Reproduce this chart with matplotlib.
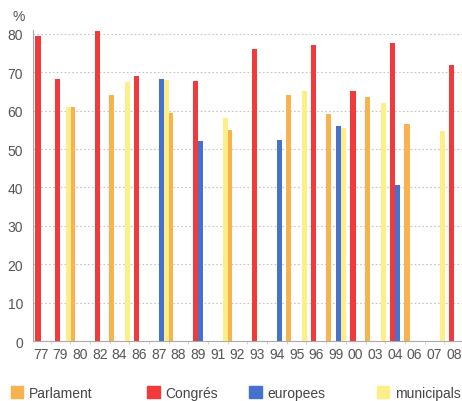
import numpy as np
import matplotlib
matplotlib.use("Agg")
from matplotlib import pyplot as plt
from matplotlib.patches import Patch

plt.rcParams['font.family'] = ['Liberation Sans', 'DejaVu Sans']

# election years on the x axis
years = ['77', '79', '80', '82', '84', '86', '87', '88', '89', '91', '92',
         '93', '94', '95', '96', '99', '00', '03', '04', '06', '07', '08']

# turnout (%) per election type, None where there was no election
parlament = [None, None, 61, None, 64, None, None, 59.5, None, None, 55,
             None, None, 64, None, 59.2, None, 63.6, None, 56.4, None, None]
congres = [79.3, 68.3, None, 80.6, None, 69, None, None, 67.6, None, None,
           76, None, None, 77, None, 65, None, 77.5, None, None, 72]
europees = [None, None, None, None, None, None, 68.2, None, 52, None, None,
            None, 52.3, None, None, 56, None, None, 40.7, None, None, None]
municipals = [None, 61, None, None, 67.5, None, 68, None, None, 58, None,
              None, None, 65, None, 55.5, None, 62, None, None, 54.7, None]

series = [('Parlament', parlament, '#F8B24E'),
          ('Congrés', congres, '#F03A3C'),
          ('europees', europees, '#4771CF'),
          ('municipals', municipals, '#FDEF88')]

fig = plt.figure(figsize=(4.62, 4.02), dpi=100)
ax = fig.add_axes([0.071, 0.149, 0.929, 0.774])

x = np.arange(len(years))
width = 0.265
for k, (name, vals, col) in enumerate(series):
    idx = [i for i, v in enumerate(vals) if v is not None]
    h = [vals[i] for i in idx]
    ax.bar(x[idx] + (k - 1.5) * width, h, width=width, color=col,
           zorder=3, linewidth=0)

ax.set_xlim(-0.4, len(years) - 0.6)
ax.set_ylim(0, 81)
ax.set_yticks(range(0, 81, 10))
ax.set_xticks(x)
ax.set_xticklabels(years)
ax.set_xticks(x[:-1] + 0.5, minor=True)
ax.tick_params(axis='y', length=0, pad=7, labelsize=10, labelcolor='#555555')
ax.tick_params(axis='x', which='major', length=0, pad=4, labelsize=10,
               labelcolor='#555555')
ax.tick_params(axis='x', which='minor', length=2, color='#cccccc')

ax.grid(axis='y', linestyle=(0, (1.5, 2)), color='#c4c4c4', linewidth=0.8,
        zorder=0)
for s in ['top', 'right']:
    ax.spines[s].set_visible(False)
for s in ['left', 'bottom']:
    ax.spines[s].set_color('#aaaaaa')
    ax.spines[s].set_linewidth(0.8)

fig.text(0.026, 0.958, '%', fontsize=10, color='#555555', va='center')

# legend entries spread along the bottom
leg_x = [0.008, 0.304, 0.524, 0.8]
for (name, vals, col), lx in zip(series, leg_x):
    fig.legend(handles=[Patch(color=col, label=name)], loc='center left',
               bbox_to_anchor=(lx, 0.02), frameon=False, fontsize=10,
               handlelength=0.9, handleheight=0.9, handletextpad=0.4,
               borderpad=0, labelcolor='#444444')

fig.savefig('out.png', dpi=100)
